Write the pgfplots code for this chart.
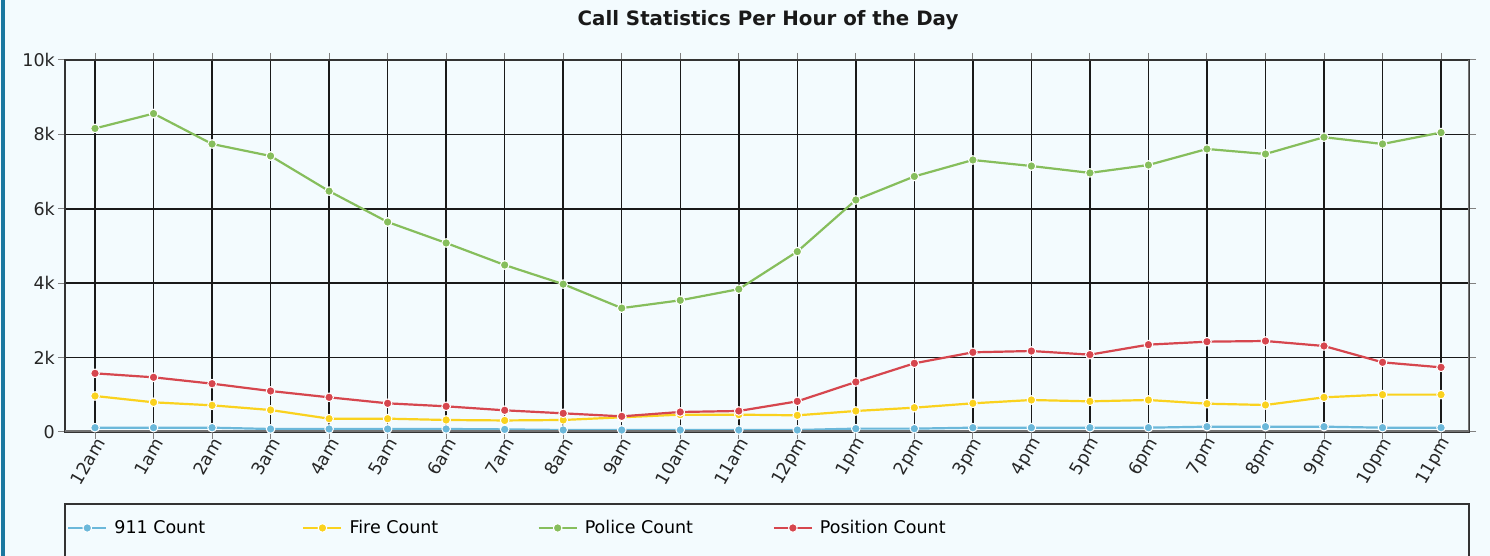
\documentclass[border=0pt]{standalone}
\usepackage{pgfplots}
\pgfplotsset{compat=1.18}
\usepackage{pgfplotstable}
\usepackage{fontspec}
\setmainfont{DejaVu Sans}
\definecolor{bg}{RGB}{243,251,254}
\definecolor{lborder}{RGB}{26,120,160}
\definecolor{cblue}{RGB}{107,184,218}
\definecolor{cyellow}{RGB}{250,210,30}
\definecolor{cgreen}{RGB}{134,190,92}
\definecolor{cred}{RGB}{214,70,78}
\pgfplotstableread{
hour c911 fire police position
0 116 968 8160 1577
1 116 798 8560 1470
2 116 717 7742 1299
3 81 591 7419 1102
4 81 358 6475 932
5 81 358 5645 771
6 81 323 5081 690
7 70 310 4489 583
8 54 323 3975 502
9 54 395 3330 421
10 54 466 3540 538
11 54 466 3840 565
12 54 448 4850 824
13 90 565 6237 1344
14 90 654 6870 1846
15 116 771 7312 2142
16 116 860 7150 2177
17 116 824 6965 2079
18 116 860 7177 2348
19 143 761 7608 2428
20 143 726 7473 2446
21 143 932 7925 2312
22 116 1004 7742 1873
23 116 1004 8050 1738
}\datatable
\begin{document}
\begin{tikzpicture}
\path[use as bounding box] (0,0) rectangle (1490pt,556pt);
\fill[bg] (0,0) rectangle (1490pt,556pt);
\fill[lborder] (1pt,0) rectangle (5pt,556pt);
\node[font=\fontsize{19.8}{23}\selectfont\bfseries, text=black!90] at (768pt,536pt) {Call Statistics Per Hour of the Day};
\draw[black!80, line width=1.6pt] (65pt,52pt) rectangle (1469pt,-20pt);
\begin{axis}[
  at={(65pt,124pt)}, anchor=south west,
  scale only axis, width=1404pt, height=372pt,
  xmin=-0.513, xmax=23.478, ymin=0, ymax=10000,
  scaled y ticks=false,
  xtick={0,...,23},
  xticklabels={12am,1am,2am,3am,4am,5am,6am,7am,8am,9am,10am,11am,12pm,1pm,2pm,3pm,4pm,5pm,6pm,7pm,8pm,9pm,10pm,11pm},
  ytick={0,2000,4000,6000,8000,10000},
  yticklabels={0,2k,4k,6k,8k,10k},
  /pgf/number format/assume math mode=true,
  ticklabel style={font=\fontsize{17.5}{20}\selectfont, text=black!85},
  xticklabel style={rotate=60, anchor=east, inner sep=2pt, xshift=4pt, yshift=-5pt},
  yticklabel style={inner sep=3pt},
  tick align=outside, major tick length=7pt,
  tick style={black!50, line width=1pt},
  grid=major,
  major grid style={black!90, line width=1.5pt},
  axis line style={black!80, line width=1.8pt},
  legend columns=4,
  legend style={draw=none, fill=none, inner sep=0pt, nodes={inner sep=0pt},
    at={(axis description cs:0.0014,-0.258)}, anchor=west,
    font=\fontsize{17.5}{20}\selectfont,
    /tikz/every odd column/.append style={column sep=7pt}},
  legend image code/.code={\draw[mark repeat=2,mark phase=2,#1] plot coordinates {(0pt,0pt) (19pt,0pt) (38pt,0pt)};},
  every axis plot/.append style={line width=2.2pt, mark=*, mark size=4.3pt},
]
\addplot[cblue, mark options={fill=cblue, draw=white, line width=1pt}] table[x=hour, y=c911] {\datatable};
\addlegendentry{\makebox[188pt][l]{911 Count}}
\addplot[cyellow, mark options={fill=cyellow, draw=white, line width=1pt}] table[x=hour, y=fire] {\datatable};
\addlegendentry{\makebox[188pt][l]{Fire Count}}
\addplot[cgreen, mark options={fill=cgreen, draw=white, line width=1pt}] table[x=hour, y=police] {\datatable};
\addlegendentry{\makebox[188pt][l]{Police Count}}
\addplot[cred, mark options={fill=cred, draw=white, line width=1pt}] table[x=hour, y=position] {\datatable};
\addlegendentry{\makebox[188pt][l]{Position Count}}
\draw[black!55, line width=3pt] (rel axis cs:0,0) -- (rel axis cs:1,0);
\draw[black!55, line width=2.5pt] (rel axis cs:1,0) -- (rel axis cs:1,1);
\end{axis}
\end{tikzpicture}
\end{document}
